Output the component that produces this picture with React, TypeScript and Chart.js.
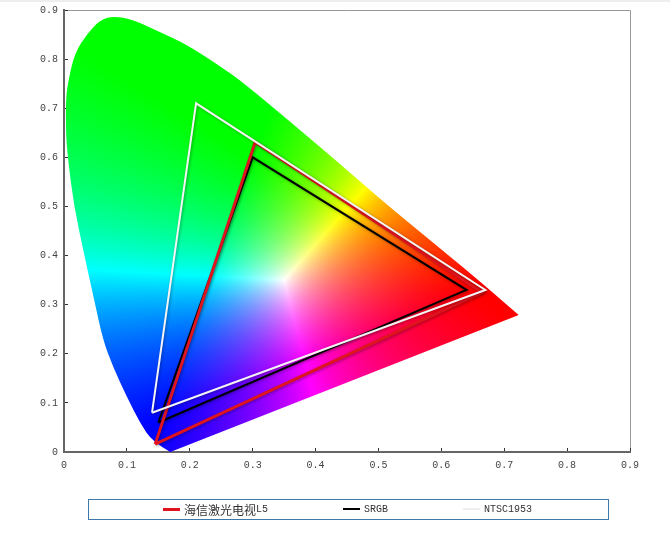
import { useEffect, useRef } from 'react';
import { Chart, registerables } from 'chart.js';

Chart.register(...registerables);

const TICK_LABELS = ['0', '0.1', '0.2', '0.3', '0.4', '0.5', '0.6', '0.7', '0.8', '0.9'];

// spectrum locus, going clockwise from the violet end
const LOCUS_X = [0.169, 0.141, 0.121, 0.1, 0.078, 0.062, 0.048, 0.041, 0.033, 0.016, 0.006, 0.003, 0.003, 0.006, 0.017, 0.037, 0.057, 0.078, 0.11, 0.153, 0.196, 0.248, 0.285, 0.359, 0.428, 0.491, 0.555, 0.598, 0.666, 0.723];
const LOCUS_Y = [0, 0.02, 0.059, 0.112, 0.173, 0.228, 0.31, 0.35, 0.397, 0.499, 0.599, 0.65, 0.717, 0.751, 0.813, 0.852, 0.879, 0.888, 0.88, 0.855, 0.829, 0.786, 0.752, 0.673, 0.599, 0.528, 0.46, 0.415, 0.342, 0.279];

const L5_X = [0.145, 0.304, 0.665, 0.145];
const L5_Y = [0.016, 0.631, 0.325, 0.016];
const SRGB_X = [0.15, 0.3, 0.64, 0.15];
const SRGB_Y = [0.06, 0.6, 0.33, 0.06];
const NTSC_X = [0.14, 0.21, 0.67, 0.14];
const NTSC_Y = [0.08, 0.71, 0.33, 0.08];

const LEGEND_NAMES = ['海信激光电视L5', 'SRGB', 'NTSC1953'];
const LEGEND_COLORS = ['#e0141e', '#000000', '#eeeeee'];

const toPoints = (xs: number[], ys: number[]) => xs.map((x, i) => ({ x, y: ys[i] }));

// xy chromaticity to a fully saturated display colour, white sits near (0.35, 0.35)
function chroma(x: number, y: number): [number, number, number] {
  const X = x / y;
  const Z = (1 - x - y) / y;
  const r = Math.max((3.2406 * X - 1.5372 - 0.4986 * Z) * 0.784, 0);
  const g = Math.max((-0.9689 * X + 1.8758 + 0.0415 * Z) * 1.061, 0);
  const b = Math.max((0.0557 * X - 0.204 + 1.057 * Z) * 1.32, 0);
  const m = Math.max(r, g, b) || 1;
  return [(255 * r) / m, (255 * g) / m, (255 * b) / m];
}

const gamutPlugin = {
  id: 'gamut',
  beforeDraw(chart: any) {
    const { ctx, chartArea: a } = chart;
    ctx.save();
    ctx.strokeStyle = '#999';
    ctx.lineWidth = 1;
    ctx.beginPath();
    ctx.moveTo(a.left, a.top + 0.5);
    ctx.lineTo(a.right + 0.5, a.top + 0.5);
    ctx.lineTo(a.right + 0.5, a.bottom);
    ctx.stroke();
    ctx.restore();
  },
  beforeDatasetsDraw(chart: any) {
    const { ctx, chartArea: a, scales } = chart;
    const w = Math.ceil(a.right - a.left);
    const h = Math.ceil(a.bottom - a.top);
    const off = document.createElement('canvas');
    off.width = w;
    off.height = h;
    const octx = off.getContext('2d')!;
    const img = octx.createImageData(w, h);
    for (let j = 0; j < h; j++) {
      const y = Math.max(scales.y.getValueForPixel(a.top + j + 0.5), 0.001);
      for (let i = 0; i < w; i++) {
        const x = scales.x.getValueForPixel(a.left + i + 0.5);
        const [r, g, b] = chroma(x, y);
        const k = (j * w + i) * 4;
        img.data[k] = r;
        img.data[k + 1] = g;
        img.data[k + 2] = b;
        img.data[k + 3] = 255;
      }
    }
    octx.putImageData(img, 0, 0);

    // smooth outline through the midpoints, the two ends stay sharp
    const pts = chart.data.datasets[3].data.map((p: any) => [scales.x.getPixelForValue(p.x), scales.y.getPixelForValue(p.y)]);
    ctx.save();
    ctx.beginPath();
    ctx.moveTo(pts[0][0], pts[0][1]);
    for (let i = 1; i < pts.length - 1; i++) {
      ctx.quadraticCurveTo(pts[i][0], pts[i][1], (pts[i][0] + pts[i + 1][0]) / 2, (pts[i][1] + pts[i + 1][1]) / 2);
    }
    ctx.lineTo(pts[pts.length - 1][0], pts[pts.length - 1][1]);
    ctx.closePath();
    ctx.clip();
    ctx.drawImage(off, a.left, a.top);
    ctx.restore();
  },
  beforeDatasetDraw(chart: any, args: any) {
    if (args.index === 3) return;
    chart.ctx.shadowColor = 'rgba(0,0,0,0.35)';
    chart.ctx.shadowBlur = 3;
    chart.ctx.shadowOffsetX = 1;
    chart.ctx.shadowOffsetY = 1;
  },
  afterDatasetDraw(chart: any) {
    chart.ctx.shadowColor = 'transparent';
    chart.ctx.shadowBlur = 0;
    chart.ctx.shadowOffsetX = 0;
    chart.ctx.shadowOffsetY = 0;
  },
};

export default function App() {
  const ref = useRef<HTMLCanvasElement>(null);

  useEffect(() => {
    document.body.style.margin = '0';
    const tickStyle = { color: '#444', font: { family: '"Liberation Mono", monospace', size: 10 } };
    const line = (label: string, xs: number[], ys: number[], color: string, width: number, order: number) => ({
      label,
      data: toPoints(xs, ys),
      showLine: true,
      borderColor: color,
      borderWidth: width,
      borderJoinStyle: 'miter' as const,
      pointRadius: 0,
      order,
    });
    const chart = new Chart(ref.current!, {
      type: 'scatter',
      data: {
        datasets: [
          line(LEGEND_NAMES[0], L5_X, L5_Y, '#e0141e', 3, 1),
          line(LEGEND_NAMES[1], SRGB_X, SRGB_Y, '#000000', 2, 2),
          line(LEGEND_NAMES[2], NTSC_X, NTSC_Y, '#f4f4f4', 2, 0),
          { label: 'locus', data: toPoints(LOCUS_X, LOCUS_Y), pointRadius: 0, showLine: false, order: 3 },
        ],
      },
      options: {
        responsive: false,
        animation: false,
        layout: { padding: { top: 10, right: 40 } },
        plugins: { legend: { display: false }, tooltip: { enabled: false } },
        scales: {
          x: {
            type: 'linear',
            min: 0,
            max: 0.9,
            grid: { drawOnChartArea: false, tickLength: -4, tickColor: '#333' },
            border: { color: '#666', width: 2 },
            ticks: { ...tickStyle, stepSize: 0.1, autoSkip: false, maxRotation: 0, padding: 11, callback: (_v, i) => TICK_LABELS[i] },
            afterFit: (s) => { s.height = 96; s.paddingLeft = 0; s.paddingRight = 0; },
          },
          y: {
            type: 'linear',
            min: 0,
            max: 0.9,
            grid: { drawOnChartArea: false, tickLength: -4, tickColor: '#333' },
            border: { color: '#666', width: 2 },
            ticks: { ...tickStyle, stepSize: 0.1, autoSkip: false, padding: 10, callback: (_v, i) => TICK_LABELS[i] },
            afterFit: (s) => { s.width = 64; s.paddingTop = 0; s.paddingBottom = 0; },
          },
        },
      },
      plugins: [gamutPlugin],
    });
    return () => { chart.destroy(); };
  }, []);

  const lefts = [163, 343, 463];
  return (
    <div style={{ position: 'relative', width: 670, height: 548, background: '#fff' }}>
      <canvas ref={ref} width={670} height={548} style={{ display: 'block' }} />
      <div style={{ position: 'absolute', left: 0, top: 0, width: 670, height: 2, background: '#eee' }} />
      <div style={{ position: 'absolute', left: 88, top: 499, width: 519, height: 19, border: '1.5px solid #3f78a8' }} />
      {LEGEND_NAMES.map((name, i) => (
        <div key={name} style={{ position: 'absolute', left: lefts[i], top: 501, height: 16, display: 'flex', alignItems: 'center', whiteSpace: 'nowrap', fontFamily: '"Liberation Mono", monospace', fontSize: 10, color: '#333' }}>
          <span style={{ display: 'inline-block', width: 17, height: i === 0 ? 3 : 2, marginRight: 4, background: LEGEND_COLORS[i] }} />
          {name.split(/([\u4e00-\u9fff]+)/).map((part, k) => (
            /[\u4e00-\u9fff]/.test(part)
              ? <span key={k} style={{ fontFamily: '"Noto Sans CJK SC"', fontSize: 12 }}>{part}</span>
              : <span key={k}>{part}</span>
          ))}
        </div>
      ))}
    </div>
  );
}
